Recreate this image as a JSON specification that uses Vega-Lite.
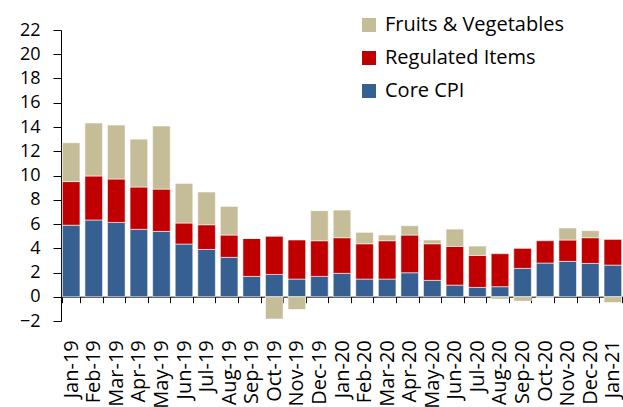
{
  "$schema": "https://vega.github.io/schema/vega-lite/v6.json",
  "autosize": {"type": "none"},
  "width": 562,
  "height": 291,
  "padding": {"left": 61, "top": 30, "right": 0, "bottom": 86},
  "background": "white",
  "config": {"view": {"stroke": null}, "font": "Open Sans"},
  "data": {
    "values": [
      {"month": "Jan-19", "series": "Core CPI", "value": 5.9},
      {"month": "Jan-19", "series": "Regulated Items", "value": 3.6},
      {"month": "Jan-19", "series": "Fruits & Vegetables", "value": 3.2},
      {"month": "Feb-19", "series": "Core CPI", "value": 6.33},
      {"month": "Feb-19", "series": "Regulated Items", "value": 3.63},
      {"month": "Feb-19", "series": "Fruits & Vegetables", "value": 4.37},
      {"month": "Mar-19", "series": "Core CPI", "value": 6.13},
      {"month": "Mar-19", "series": "Regulated Items", "value": 3.58},
      {"month": "Mar-19", "series": "Fruits & Vegetables", "value": 4.45},
      {"month": "Apr-19", "series": "Core CPI", "value": 5.56},
      {"month": "Apr-19", "series": "Regulated Items", "value": 3.49},
      {"month": "Apr-19", "series": "Fruits & Vegetables", "value": 3.95},
      {"month": "May-19", "series": "Core CPI", "value": 5.39},
      {"month": "May-19", "series": "Regulated Items", "value": 3.49},
      {"month": "May-19", "series": "Fruits & Vegetables", "value": 5.2},
      {"month": "Jun-19", "series": "Core CPI", "value": 4.35},
      {"month": "Jun-19", "series": "Regulated Items", "value": 1.73},
      {"month": "Jun-19", "series": "Fruits & Vegetables", "value": 3.27},
      {"month": "Jul-19", "series": "Core CPI", "value": 3.9},
      {"month": "Jul-19", "series": "Regulated Items", "value": 2.04},
      {"month": "Jul-19", "series": "Fruits & Vegetables", "value": 2.7},
      {"month": "Aug-19", "series": "Core CPI", "value": 3.25},
      {"month": "Aug-19", "series": "Regulated Items", "value": 1.84},
      {"month": "Aug-19", "series": "Fruits & Vegetables", "value": 2.36},
      {"month": "Sep-19", "series": "Core CPI", "value": 1.68},
      {"month": "Sep-19", "series": "Regulated Items", "value": 3.13},
      {"month": "Sep-19", "series": "Fruits & Vegetables", "value": 0},
      {"month": "Oct-19", "series": "Core CPI", "value": 1.84},
      {"month": "Oct-19", "series": "Regulated Items", "value": 3.14},
      {"month": "Oct-19", "series": "Fruits & Vegetables", "value": -1.84},
      {"month": "Nov-19", "series": "Core CPI", "value": 1.46},
      {"month": "Nov-19", "series": "Regulated Items", "value": 3.22},
      {"month": "Nov-19", "series": "Fruits & Vegetables", "value": -1.05},
      {"month": "Dec-19", "series": "Core CPI", "value": 1.68},
      {"month": "Dec-19", "series": "Regulated Items", "value": 2.94},
      {"month": "Dec-19", "series": "Fruits & Vegetables", "value": 2.48},
      {"month": "Jan-20", "series": "Core CPI", "value": 1.93},
      {"month": "Jan-20", "series": "Regulated Items", "value": 2.94},
      {"month": "Jan-20", "series": "Fruits & Vegetables", "value": 2.28},
      {"month": "Feb-20", "series": "Core CPI", "value": 1.46},
      {"month": "Feb-20", "series": "Regulated Items", "value": 2.91},
      {"month": "Feb-20", "series": "Fruits & Vegetables", "value": 0.94},
      {"month": "Mar-20", "series": "Core CPI", "value": 1.46},
      {"month": "Mar-20", "series": "Regulated Items", "value": 3.16},
      {"month": "Mar-20", "series": "Fruits & Vegetables", "value": 0.47},
      {"month": "Apr-20", "series": "Core CPI", "value": 1.98},
      {"month": "Apr-20", "series": "Regulated Items", "value": 3.11},
      {"month": "Apr-20", "series": "Fruits & Vegetables", "value": 0.77},
      {"month": "May-20", "series": "Core CPI", "value": 1.35},
      {"month": "May-20", "series": "Regulated Items", "value": 3.02},
      {"month": "May-20", "series": "Fruits & Vegetables", "value": 0.31},
      {"month": "Jun-20", "series": "Core CPI", "value": 0.96},
      {"month": "Jun-20", "series": "Regulated Items", "value": 3.19},
      {"month": "Jun-20", "series": "Fruits & Vegetables", "value": 1.43},
      {"month": "Jul-20", "series": "Core CPI", "value": 0.77},
      {"month": "Jul-20", "series": "Regulated Items", "value": 2.64},
      {"month": "Jul-20", "series": "Fruits & Vegetables", "value": 0.77},
      {"month": "Aug-20", "series": "Core CPI", "value": 0.83},
      {"month": "Aug-20", "series": "Regulated Items", "value": 2.72},
      {"month": "Aug-20", "series": "Fruits & Vegetables", "value": -0.19},
      {"month": "Sep-20", "series": "Core CPI", "value": 2.34},
      {"month": "Sep-20", "series": "Regulated Items", "value": 1.65},
      {"month": "Sep-20", "series": "Fruits & Vegetables", "value": -0.36},
      {"month": "Oct-20", "series": "Core CPI", "value": 2.78},
      {"month": "Oct-20", "series": "Regulated Items", "value": 1.84},
      {"month": "Oct-20", "series": "Fruits & Vegetables", "value": -0.08},
      {"month": "Nov-20", "series": "Core CPI", "value": 2.92},
      {"month": "Nov-20", "series": "Regulated Items", "value": 1.76},
      {"month": "Nov-20", "series": "Fruits & Vegetables", "value": 0.99},
      {"month": "Dec-20", "series": "Core CPI", "value": 2.75},
      {"month": "Dec-20", "series": "Regulated Items", "value": 2.12},
      {"month": "Dec-20", "series": "Fruits & Vegetables", "value": 0.58},
      {"month": "Jan-21", "series": "Core CPI", "value": 2.61},
      {"month": "Jan-21", "series": "Regulated Items", "value": 2.12},
      {"month": "Jan-21", "series": "Fruits & Vegetables", "value": -0.47}
    ]
  },
  "transform": [
    {"calculate": "datum.series === 'Core CPI' ? 1 : (datum.series === 'Regulated Items' ? 2 : 3)", "as": "ord"}
  ],
  "mark": {"type": "bar", "stroke": "#ffffff", "strokeWidth": 0.8, "strokeOpacity": 0.7},
  "encoding": {
    "x": {
      "field": "month",
      "type": "nominal",
      "sort": null,
      "scale": {"paddingInner": 0.22, "paddingOuter": 0.06},
      "axis": {
        "title": null,
        "offset": -24.3,
        "domainColor": "#000000",
        "domainWidth": 1,
        "tickColor": "#000000",
        "tickSize": 6,
        "tickBand": "extent",
        "labelAngle": -90,
        "labelFontSize": 20,
        "labelColor": "#000000",
        "labelPadding": 37,
        "labelLimit": 200
      }
    },
    "y": {
      "field": "value",
      "type": "quantitative",
      "stack": "zero",
      "scale": {"domain": [-2, 22], "nice": false, "zero": false},
      "axis": {
        "title": null,
        "values": [-2, 0, 2, 4, 6, 8, 10, 12, 14, 16, 18, 20, 22],
        "grid": false,
        "domainColor": "#000000",
        "tickColor": "#000000",
        "tickSize": 8,
        "labelFontSize": 18,
        "labelColor": "#000000",
        "labelPadding": 13
      }
    },
    "color": {
      "field": "series",
      "type": "nominal",
      "scale": {
        "domain": ["Fruits & Vegetables", "Regulated Items", "Core CPI"],
        "range": ["#C4BD97", "#C00000", "#376092"]
      },
      "legend": {
        "title": null,
        "orient": "none",
        "legendX": 298,
        "legendY": -15,
        "symbolType": "square",
        "symbolSize": 196,
        "symbolStrokeWidth": 0,
        "labelFontSize": 20,
        "labelLimit": 300,
        "labelColor": "#000000",
        "labelOffset": 6,
        "rowPadding": 13
      }
    },
    "order": {"field": "ord", "type": "quantitative"}
  }
}
